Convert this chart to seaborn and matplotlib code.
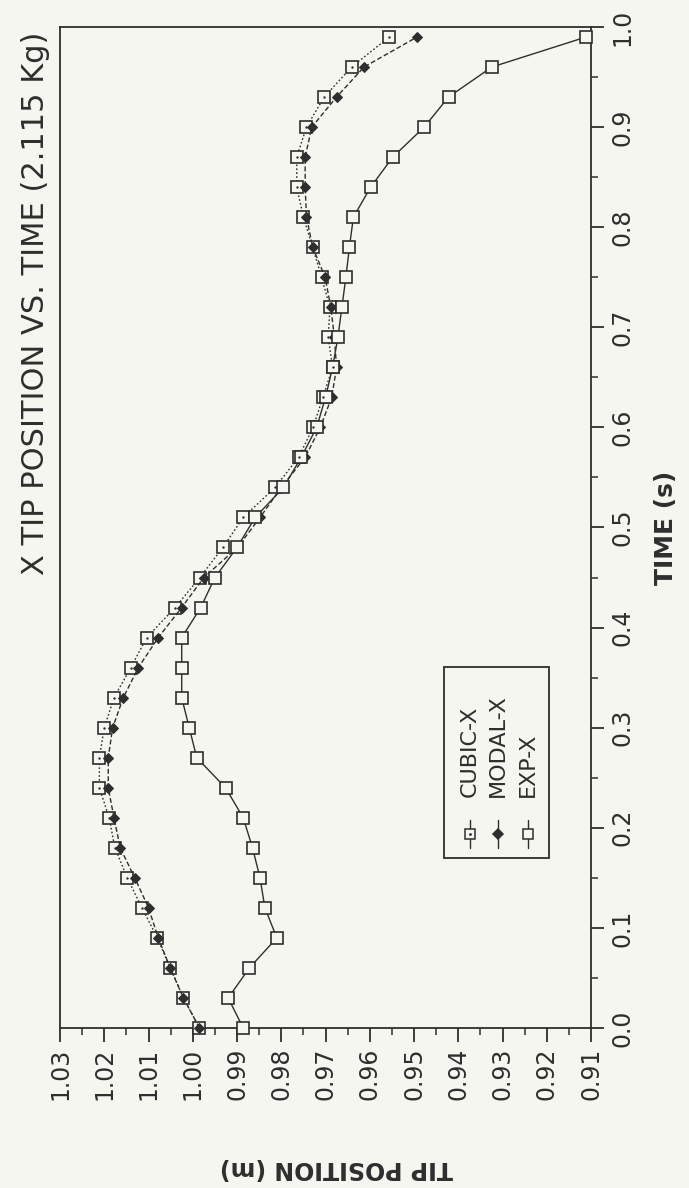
import numpy as np
import pandas as pd
import matplotlib
matplotlib.use("Agg")
import matplotlib.pyplot as plt
import seaborn as sns
from matplotlib.patches import Rectangle
from matplotlib.ticker import MultipleLocator

# ---------------- data ----------------
time_s = [0.00, 0.03, 0.06, 0.09, 0.12, 0.15, 0.18, 0.21, 0.24, 0.27, 0.30, 0.33,
          0.36, 0.39, 0.42, 0.45, 0.48, 0.51, 0.54, 0.57, 0.60, 0.63, 0.66, 0.69,
          0.72, 0.75, 0.78, 0.81, 0.84, 0.87, 0.90, 0.93, 0.96, 0.99]

cubic_x = [0.9985, 1.0021, 1.0051, 1.0080, 1.0115, 1.0148, 1.0176, 1.0189, 1.0211,
           1.0211, 1.0200, 1.0178, 1.0140, 1.0104, 1.0040, 0.9984, 0.9932, 0.9886,
           0.9814, 0.9761, 0.9728, 0.9706, 0.9684, 0.9694, 0.9690, 0.9709, 0.9729,
           0.9750, 0.9765, 0.9765, 0.9743, 0.9703, 0.9641, 0.9556]

modal_x = [0.9985, 1.0021, 1.0051, 1.0078, 1.0100, 1.0131, 1.0164, 1.0178, 1.0191,
           1.0191, 1.0181, 1.0157, 1.0123, 1.0078, 1.0025, 0.9975, 0.9899, 0.9848,
           0.9800, 0.9746, 0.9712, 0.9686, 0.9675, 0.9680, 0.9688, 0.9701, 0.9729,
           0.9743, 0.9746, 0.9746, 0.9731, 0.9675, 0.9613, 0.9493]

exp_x = [0.9886, 0.9920, 0.9872, 0.9810, 0.9837, 0.9848, 0.9865, 0.9886, 0.9926,
         0.9991, 1.0008, 1.0025, 1.0025, 1.0025, 0.9982, 0.9950, 0.9900, 0.9859,
         0.9795, 0.9755, 0.9720, 0.9700, 0.9684, 0.9672, 0.9663, 0.9654, 0.9646,
         0.9637, 0.9598, 0.9548, 0.9477, 0.9422, 0.9324, 0.9111]

series_names = ["CUBIC-X", "MODAL-X", "EXP-X"]

pos_ticks = [1.03, 1.02, 1.01, 1.00, 0.99, 0.98, 0.97, 0.96, 0.95, 0.94, 0.93, 0.92, 0.91]
pos_tick_labels = ["1.03", "1.02", "1.01", "1.00", "0.99", "0.98", "0.97", "0.96",
                   "0.95", "0.94", "0.93", "0.92", "0.91"]
time_ticks = [0.0, 0.1, 0.2, 0.3, 0.4, 0.5, 0.6, 0.7, 0.8, 0.9, 1.0]
time_tick_labels = ["0.0", "0.1", "0.2", "0.3", "0.4", "0.5", "0.6", "0.7", "0.8", "0.9", "1.0"]

title_text = "X TIP POSITION VS. TIME (2.115 Kg)"
x_label = "TIP POSITION (m)"
y_label = "TIME (s)"

# ---------------- style ----------------
sns.set_style("white")
plt.rcParams["font.family"] = ["DejaVu Sans"]
ink = "#2e2e2e"
bg = "#f6f6f0"

fig = plt.figure(figsize=(6.89, 11.88), dpi=100, facecolor=bg)
ax = fig.add_axes([0.0871, 0.1347, 0.7707, 0.8426], facecolor=bg)

# CUBIC: dotted line, open square with centre dot
sns.lineplot(x=cubic_x, y=time_s, sort=False, estimator=None, ax=ax, color=ink,
             linewidth=1.0, linestyle=(0, (1.2, 1.6)), marker="s", markersize=8,
             markerfacecolor=bg, markeredgecolor=ink, markeredgewidth=1.2,
             clip_on=False, zorder=3)
sns.scatterplot(x=cubic_x, y=time_s, ax=ax, color=ink, s=3, linewidth=0,
                clip_on=False, zorder=4)
# MODAL: dashed line, filled diamond
sns.lineplot(x=modal_x, y=time_s, sort=False, estimator=None, ax=ax, color=ink,
             linewidth=1.0, linestyle=(0, (3.5, 1.8)), marker="D", markersize=5,
             markerfacecolor=ink, markeredgecolor=ink, clip_on=False, zorder=3)
# EXP: solid line, open square
sns.lineplot(x=exp_x, y=time_s, sort=False, estimator=None, ax=ax, color=ink,
             linewidth=1.0, linestyle="-", marker="s", markersize=8,
             markerfacecolor=bg, markeredgecolor=ink, markeredgewidth=1.2,
             clip_on=False, zorder=3)

ax.set_xlim(1.03, 0.91)
ax.set_ylim(0.0, 1.0)

for sp in ax.spines.values():
    sp.set_visible(True)
    sp.set_color(ink)
    sp.set_linewidth(1.3)

ax.set_xticks(pos_ticks)
ax.set_xticklabels(pos_tick_labels, rotation=90, fontsize=17, color=ink)
ax.xaxis.set_minor_locator(MultipleLocator(0.005))
ax.tick_params(axis="x", which="major", bottom=True, top=False, direction="out",
               length=10, width=1.3, color=ink, pad=4)
ax.tick_params(axis="x", which="minor", bottom=True, top=False, direction="out",
               length=5, width=1.1, color=ink)

ax.yaxis.tick_right()
ax.set_yticks(time_ticks)
ax.set_yticklabels(time_tick_labels, rotation=90, fontsize=17, color=ink, va="center")
ax.yaxis.set_minor_locator(MultipleLocator(0.05))
ax.tick_params(axis="y", which="major", left=False, right=True, direction="out",
               length=9, width=1.3, color=ink, pad=5)
ax.tick_params(axis="y", which="minor", left=False, right=True, direction="out",
               length=5, width=1.1, color=ink)

ax.set_xlabel(x_label, rotation=180, fontsize=17, fontweight="bold", color=ink)
ax.xaxis.set_label_coords(0.52, -0.128)
ax.yaxis.set_label_position("right")
ax.set_ylabel(y_label, rotation=90, fontsize=18, fontweight="bold", color=ink,
              labelpad=14)

fig.text(36 / 689, 1 - 32 / 1188, title_text, rotation=90, ha="center", va="top",
         fontsize=22, color=ink)

# ---------------- legend (rotated, drawn in axes coordinates) ----------------
ax.add_patch(Rectangle((0.723, 0.170), 0.198, 0.191, transform=ax.transAxes,
                       fill=False, edgecolor=ink, linewidth=1.3, zorder=5))
leg_x = [0.772, 0.825, 0.881]
leg_styles = [
    dict(linestyle="-", marker="s", markersize=7, markerfacecolor=bg, markeredgecolor=ink),
    dict(linestyle="-", marker="D", markersize=5, markerfacecolor=ink, markeredgecolor=ink),
    dict(linestyle="-", marker="s", markersize=7, markerfacecolor=bg, markeredgecolor=ink),
]
for i, (lx, name, st) in enumerate(zip(leg_x, series_names, leg_styles)):
    ax.plot([lx, lx], [0.180, 0.208], transform=ax.transAxes, color=ink,
            linewidth=1.0, zorder=5)
    ax.plot([lx], [0.194], transform=ax.transAxes, color=ink, markeredgewidth=1.1,
            zorder=6, **st)
    if i == 0:
        ax.plot([lx], [0.194], transform=ax.transAxes, marker=".", markersize=2,
                color=ink, zorder=7)
    ax.text(lx, 0.231, name, rotation=90, ha="center", va="bottom",
            transform=ax.transAxes, fontsize=16, color=ink, zorder=6)

fig.savefig("out.png", dpi=100, facecolor=bg)
